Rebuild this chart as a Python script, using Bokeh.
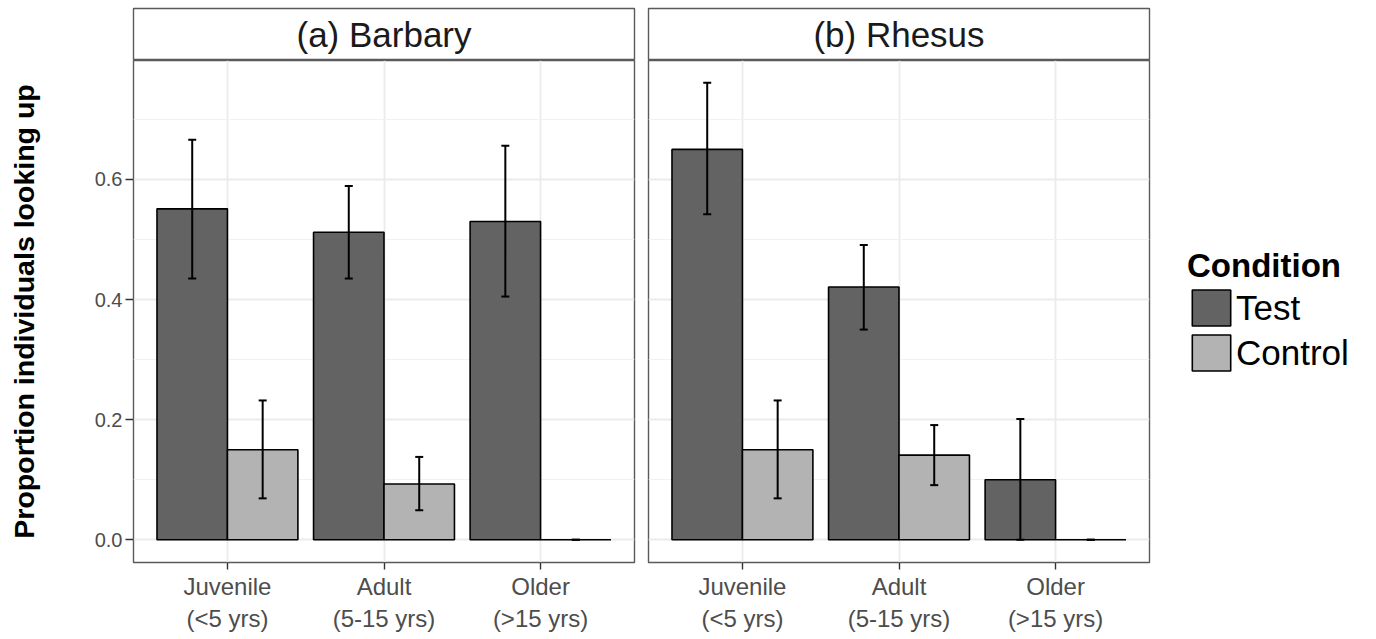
from bokeh.plotting import figure
from bokeh.models import (ColumnDataSource, FactorRange, Range1d, FixedTicker,
                          Whisker, TeeHead, Legend, LegendItem, PrintfTickFormatter)
from bokeh.transform import dodge
from bokeh.layouts import row, column
from bokeh.embed import file_html
from bokeh.resources import INLINE
from bokeh.core.properties import value

# ---------------- data ----------------
age_groups = ["Juvenile\n(<5 yrs)", "Adult\n(5-15 yrs)", "Older\n(>15 yrs)"]
panel_titles = ["(a) Barbary", "(b) Rhesus"]
conditions = ["Test", "Control"]
y_ticks = [0.0, 0.2, 0.4, 0.6]
y_minor = [0.1, 0.3, 0.5, 0.7]

barbary_test = [0.551, 0.512, 0.530]
barbary_test_lo = [0.435, 0.435, 0.405]
barbary_test_hi = [0.666, 0.589, 0.656]
barbary_ctrl = [0.150, 0.093, 0.0]
barbary_ctrl_lo = [0.069, 0.049, 0.0]
barbary_ctrl_hi = [0.232, 0.138, 0.0]

rhesus_test = [0.650, 0.421, 0.100]
rhesus_test_lo = [0.542, 0.350, 0.0]
rhesus_test_hi = [0.761, 0.491, 0.201]
rhesus_ctrl = [0.150, 0.141, 0.0]
rhesus_ctrl_lo = [0.069, 0.091, 0.0]
rhesus_ctrl_hi = [0.232, 0.191, 0.0]

# ---------------- style ----------------
FONT = "Liberation Sans"
TEST_COLOR = "#636363"
CTRL_COLOR = "#b3b3b3"
BORDER = "#5a5a5a"
GRID = "#ebebeb"
FRAME_W = 501
FRAME_H = 502
STRIP_H = 52
TOP_B = 8
LEFT_B = 133
GAP = 7
BAR_W = 0.45

yr = Range1d(-0.0378, 0.798)


def make_strip(title, left_border, right_border):
    s = figure(x_range=Range1d(0, 1), y_range=Range1d(0, 1),
               frame_width=FRAME_W, frame_height=STRIP_H,
               min_border_left=left_border, min_border_right=right_border,
               min_border_top=TOP_B, min_border_bottom=0,
               x_axis_location=None, y_axis_location=None,
               toolbar_location=None, output_backend="svg")
    s.grid.visible = False
    s.outline_line_color = BORDER
    s.outline_line_width = 1.4
    src = ColumnDataSource(dict(x=[0.5], y=[0.5], t=[title]))
    s.text(x="x", y="y", text="t", source=src, text_align="center",
           text_baseline="middle", text_font=value(FONT),
           text_font_size="35px", text_color="#1a1a1a")
    return s


def make_panel(test, tlo, thi, ctrl, clo, chi, left_border, right_border, show_y):
    xr = FactorRange(*age_groups, range_padding=0.1,
                     range_padding_units="absolute")
    p = figure(x_range=xr, y_range=yr,
               frame_width=FRAME_W, frame_height=FRAME_H,
               min_border_left=left_border, min_border_right=right_border,
               min_border_top=0, min_border_bottom=10,
               toolbar_location=None, output_backend="svg")
    p.outline_line_color = BORDER
    p.outline_line_width = 1.4
    p.background_fill_color = "white"

    ticker = FixedTicker(ticks=y_ticks, minor_ticks=y_minor)
    p.yaxis.ticker = ticker
    p.ygrid.ticker = ticker
    p.ygrid.grid_line_color = GRID
    p.ygrid.grid_line_width = 1.8
    p.ygrid.minor_grid_line_color = "#f2f2f2"
    p.ygrid.minor_grid_line_width = 1.2
    p.xgrid.grid_line_color = GRID
    p.xgrid.grid_line_width = 1.8

    p.xaxis.axis_line_color = None
    p.xaxis.major_tick_line_color = "#333333"
    p.xaxis.major_tick_line_width = 1.4
    p.xaxis.major_tick_out = 7
    p.xaxis.major_tick_in = 0
    p.xaxis.minor_tick_line_color = None
    p.xaxis.major_label_text_font = FONT
    p.xaxis.major_label_text_font_size = "24px"
    p.xaxis.major_label_text_color = "#4d4d4d"
    p.xaxis.major_label_standoff = 3

    if show_y:
        p.yaxis.formatter = PrintfTickFormatter(format="%.1f")
        p.yaxis.axis_line_color = None
        p.yaxis.major_tick_line_color = "#333333"
        p.yaxis.major_tick_line_width = 1.4
        p.yaxis.major_tick_out = 8
        p.yaxis.major_tick_in = 0
        p.yaxis.minor_tick_line_color = None
        p.yaxis.major_label_text_font = FONT
        p.yaxis.major_label_text_font_size = "20px"
        p.yaxis.major_label_text_color = "#4d4d4d"
        p.yaxis.major_label_standoff = 3
        p.yaxis.axis_label = "Proportion individuals looking up"
        p.yaxis.axis_label_text_font = FONT
        p.yaxis.axis_label_text_font_style = "bold"
        p.yaxis.axis_label_text_font_size = "28.5px"
        p.yaxis.axis_label_text_color = "black"
        p.yaxis.axis_label_standoff = 52
    else:
        p.yaxis.visible = False

    src = ColumnDataSource(dict(age=age_groups, test=test, tlo=tlo, thi=thi,
                                ctrl=ctrl, clo=clo, chi=chi))
    xt = dodge("age", -BAR_W / 2, range=xr)
    xc = dodge("age", BAR_W / 2, range=xr)
    rt = p.vbar(x=xt, top="test", bottom=0, width=BAR_W, source=src,
                fill_color=TEST_COLOR, line_color="black", line_width=1.6)
    rc = p.vbar(x=xc, top="ctrl", bottom=0, width=BAR_W, source=src,
                fill_color=CTRL_COLOR, line_color="black", line_width=1.6)
    for base, lo, hi in ((xt, "tlo", "thi"), (xc, "clo", "chi")):
        w = Whisker(base=base, lower=lo, upper=hi, source=src,
                    line_color="black", line_width=2, level="overlay",
                    upper_head=TeeHead(size=8, line_color="black", line_width=2),
                    lower_head=TeeHead(size=8, line_color="black", line_width=2))
        p.add_layout(w)
    return p, rt, rc


pL, _, _ = make_panel(barbary_test, barbary_test_lo, barbary_test_hi,
                      barbary_ctrl, barbary_ctrl_lo, barbary_ctrl_hi,
                      LEFT_B, GAP, True)
pR, rt, rc = make_panel(rhesus_test, rhesus_test_lo, rhesus_test_hi,
                        rhesus_ctrl, rhesus_ctrl_lo, rhesus_ctrl_hi,
                        GAP, 10, False)

legend = Legend(items=[LegendItem(label=conditions[0], renderers=[rt]),
                       LegendItem(label=conditions[1], renderers=[rc])],
                title="Condition", location="center_left")
legend.title_text_font = FONT
legend.title_text_font_style = "bold"
legend.title_text_font_size = "33px"
legend.title_text_color = "black"
legend.title_standoff = 0
legend.label_text_font = FONT
legend.label_text_font_size = "35px"
legend.label_text_color = "black"
legend.label_standoff = 1
legend.glyph_width = 48
legend.glyph_height = 45
legend.spacing = 0
legend.padding = 6
legend.margin = 38
legend.border_line_color = None
legend.background_fill_alpha = 0
pR.add_layout(legend, "right")

sL = make_strip(panel_titles[0], LEFT_B, GAP)
sR = make_strip(panel_titles[1], GAP, 10)

layout = column(row(sL, sR), row(pL, pR))

open("out.html", "w").write(file_html(layout, INLINE))
